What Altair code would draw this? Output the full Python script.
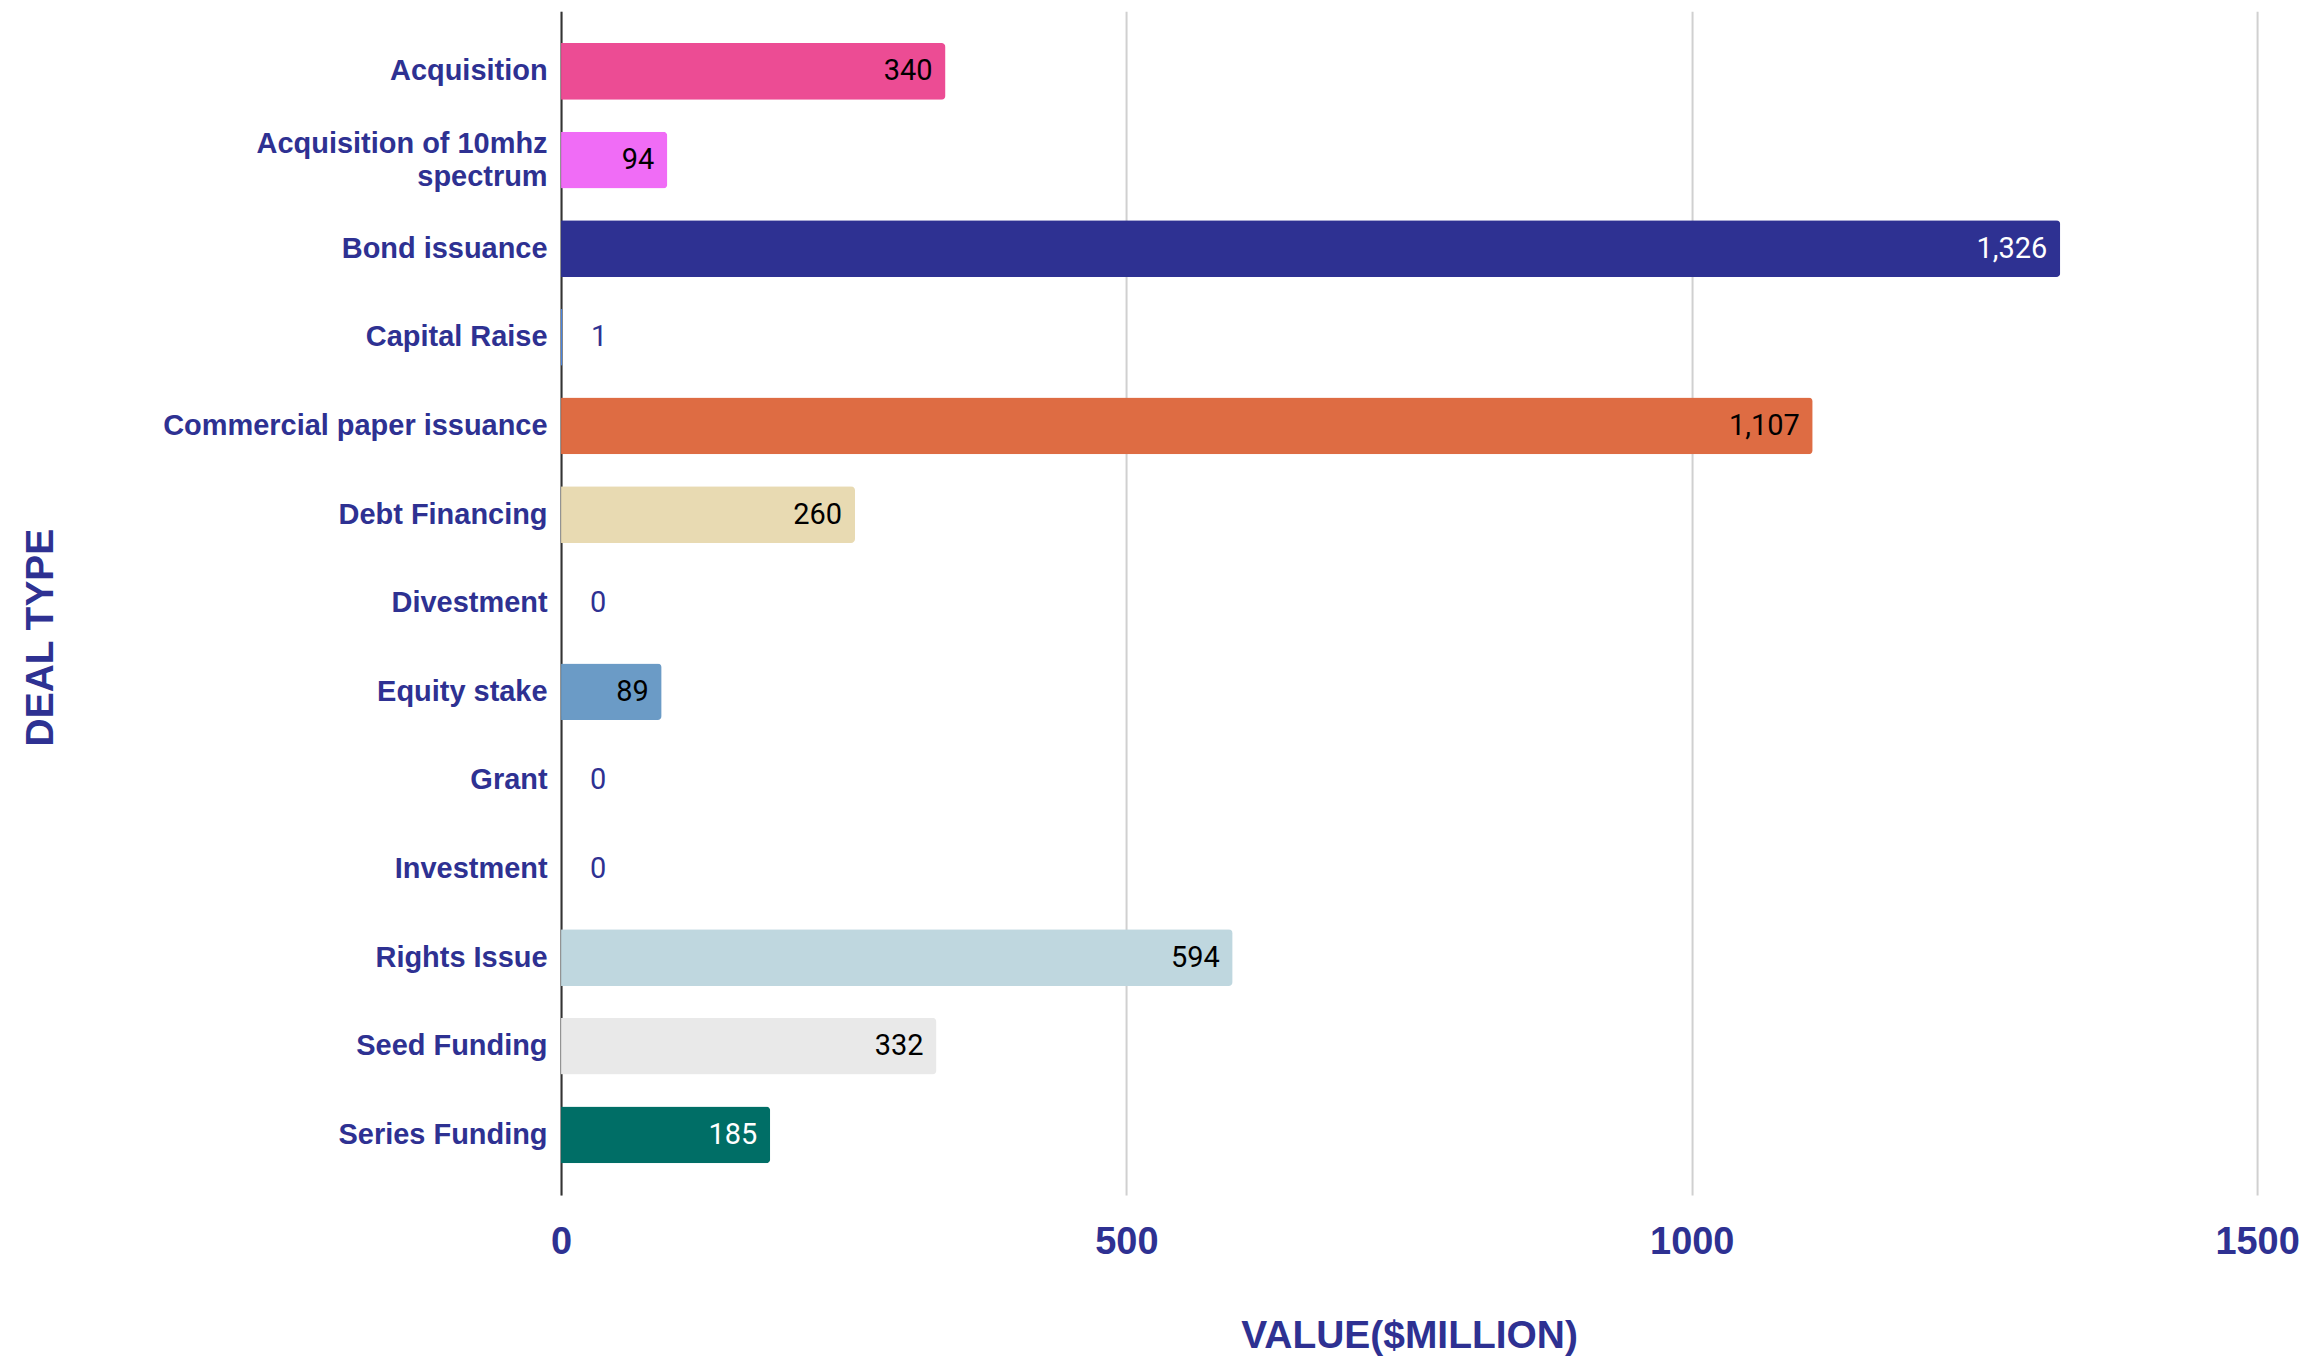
import altair as alt
import pandas as pd

categories = [
    "Acquisition",
    "Acquisition of 10mhz spectrum",
    "Bond issuance",
    "Capital Raise",
    "Commercial paper issuance",
    "Debt Financing",
    "Divestment",
    "Equity stake",
    "Grant",
    "Investment",
    "Rights Issue",
    "Seed Funding",
    "Series Funding",
]
values = [340, 94, 1326, 1, 1107, 260, 0, 89, 0, 0, 594, 332, 185]
bar_colors = [
    "#EC4C94", "#F06CF6", "#2E3192", "#4A8CF0", "#DE6C43", "#E8DAB2",
    "#CCCCCC", "#6B9BC6", "#CCCCCC", "#CCCCCC", "#BFD7DF", "#E9E9E9", "#006E66",
]
label_colors = [
    "#000000", "#000000", "#FFFFFF", "#2E3192", "#000000", "#000000",
    "#2E3192", "#000000", "#2E3192", "#2E3192", "#000000", "#000000", "#FFFFFF",
]
x_ticks = [0, 500, 1000, 1500]

df = pd.DataFrame({
    "deal": categories,
    "value": values,
    "bcolor": bar_colors,
    "lcolor": label_colors,
})

BLUE = "#2E3192"
LABEL_FONT = "Liberation Sans"
WRAPPED = "Acquisition of 10mhz spectrum"

y_enc = alt.Y(
    "deal:N",
    sort=categories,
    scale=alt.Scale(paddingInner=0.36, paddingOuter=0.36),
    axis=alt.Axis(
        title="DEAL TYPE",
        titleFont=LABEL_FONT,
        titleFontSize=39,
        titleFontWeight="bold",
        titleColor=BLUE,
        titleAngle=-90,
        titleAlign="center",
        titleBaseline="alphabetic",
        titleX=-509,
        titleY=627,
        labelFont=LABEL_FONT,
        labelFontSize=29,
        labelFontWeight="bold",
        labelColor=BLUE,
        labelPadding=14,
        labelLineHeight=33,
        labelExpr=f"datum.value == '{WRAPPED}' ? ['Acquisition of 10mhz', 'spectrum'] : datum.value",
        labelOffset={"condition": {"test": f"datum.value == '{WRAPPED}'", "value": -16}, "value": 0},
        ticks=False,
        tickSize=0,
        domain=True,
        domainColor="#333333",
        domainWidth=2,
        grid=False,
        labelLimit=1000,
    ),
)

x_enc = alt.X(
    "value:Q",
    scale=alt.Scale(domain=[0, 1500], nice=False),
    axis=alt.Axis(
        values=x_ticks,
        format="d",
        title="VALUE($MILLION)",
        titleFont=LABEL_FONT,
        titleFontSize=39,
        titleFontWeight="bold",
        titleColor=BLUE,
        titleBaseline="alphabetic",
        titleY=153,
        labelFont=LABEL_FONT,
        labelFontSize=38,
        labelFontWeight="bold",
        labelColor=BLUE,
        labelBaseline="alphabetic",
        labelPadding=58,
        labelFlush=False,
        ticks=False,
        tickSize=0,
        domain=False,
        grid=True,
        gridColor="#D0D0D0",
        gridWidth=2,
    ),
)

base = alt.Chart(df)

bars = base.mark_bar(cornerRadiusEnd=4).encode(
    y=y_enc,
    x=x_enc,
    color=alt.Color("bcolor:N", scale=None),
)

inside = base.transform_filter("datum.value >= 20").mark_text(
    align="right", baseline="middle", dx=-13, font="Roboto", fontSize=29
).encode(
    y=alt.Y("deal:N", sort=categories),
    x=alt.X("value:Q"),
    text=alt.Text("value:Q", format=",.0f"),
    color=alt.Color("lcolor:N", scale=None),
)

outside = base.transform_filter("datum.value < 20").mark_text(
    align="left", baseline="middle", dx=29, font="Roboto", fontSize=29
).encode(
    y=alt.Y("deal:N", sort=categories),
    x=alt.X("value:Q"),
    text=alt.Text("value:Q", format=",.0f"),
    color=alt.Color("lcolor:N", scale=None),
)

chart = (
    alt.layer(bars, inside, outside)
    .properties(
        width=1699,
        height=1186,
        padding={"left": 554, "top": 2, "right": 43, "bottom": 161},
        autosize=alt.AutoSizeParams(type="none"),
    )
    .configure_view(stroke=None)
)

chart.save("out.html", embed_options={"renderer": "svg", "actions": False})
